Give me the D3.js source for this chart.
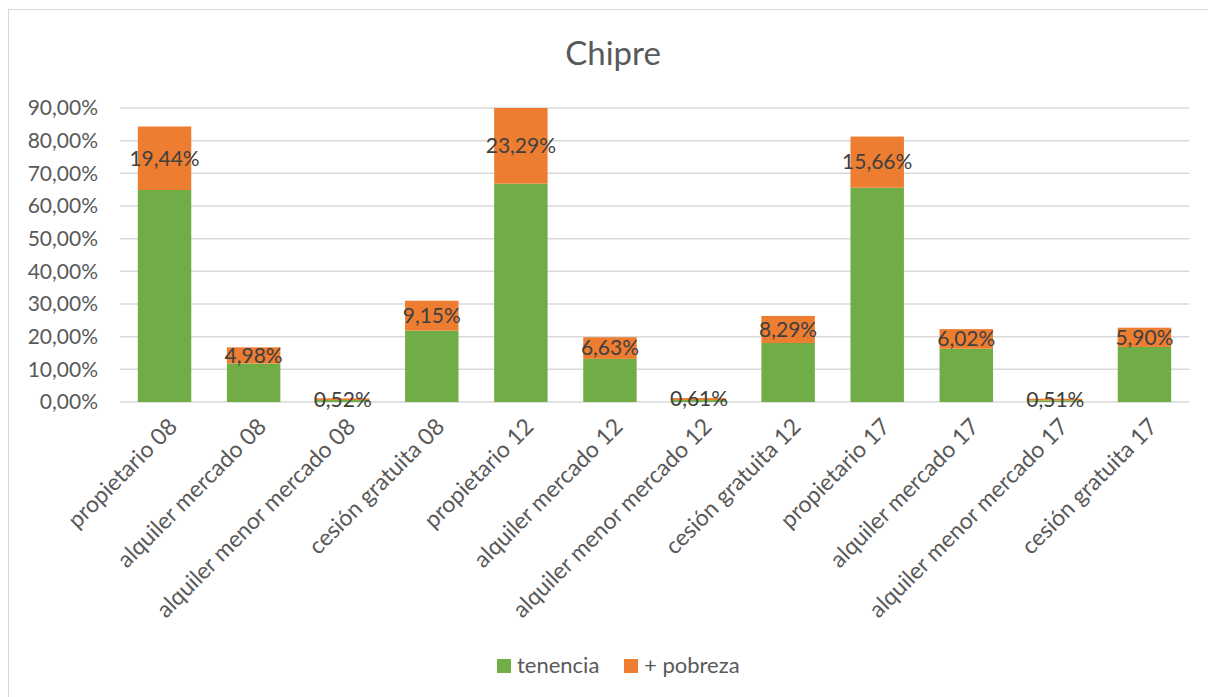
<!DOCTYPE html>
<html><head><meta charset="utf-8">
<script src="https://cdn.jsdelivr.net/npm/d3@7"></script>
<style>body{margin:0;background:#fff;} text{font-family:Lato, "Open Sans", sans-serif;}</style>
</head><body>
<svg id="c" width="1208" height="697"></svg>
<script>
const categories = ["propietario 08","alquiler mercado 08","alquiler menor mercado 08","cesión gratuita 08","propietario 12","alquiler mercado 12","alquiler menor mercado 12","cesión gratuita 12","propietario 17","alquiler mercado 17","alquiler menor mercado 17","cesión gratuita 17"];
const tenencia = [64.9, 11.76, 0.6, 21.85, 66.85, 13.2, 0.6, 18.06, 65.6, 16.3, 0.5, 16.85];
const pobreza = [19.44, 4.98, 0.52, 9.15, 23.29, 6.63, 0.61, 8.29, 15.66, 6.02, 0.51, 5.90];
const yTicks = [0,10,20,30,40,50,60,70,80,90];
const seriesNames = ["tenencia","+ pobreza"];
const colors = ["#70AD47","#ED7D31"];

const svg = d3.select("#c");
const W = 1208, H = 697;
const pLeft = 120, pRight = 1189, pTop = 108, pBottom = 402;

svg.append("line").attr("x1",8.5).attr("x2",8.5).attr("y1",9).attr("y2",H).attr("stroke","#d9d9d9");
svg.append("line").attr("x1",8).attr("x2",W).attr("y1",9.5).attr("y2",9.5).attr("stroke","#d9d9d9");

const x = d3.scaleBand().domain(categories).range([pLeft,pRight]).paddingInner(0.4).paddingOuter(0.2);
const y = d3.scaleLinear().domain([0,90]).range([pBottom,pTop]).clamp(true);

const fmt = v => v.toFixed(2).replace(".", ",") + "%";

// gridlines
svg.append("g").selectAll("line").data(yTicks).join("line")
  .attr("x1",pLeft).attr("x2",pRight).attr("y1",d=>y(d)).attr("y2",d=>y(d))
  .attr("stroke","#d9d9d9").attr("stroke-width",1.5);

// y axis labels
const yAxis = d3.axisLeft(y).tickValues(yTicks).tickFormat(fmt).tickSize(0).tickPadding(0);
const gy = svg.append("g").attr("transform",`translate(${pLeft-22},0)`).call(yAxis);
gy.select(".domain").remove();
gy.selectAll("text").attr("font-size",21).attr("fill","#595959").style("font-family","Lato");

// stacked bars
const stackData = categories.map((c,i)=>({cat:c, tenencia:tenencia[i], pobreza:pobreza[i]}));
const stack = d3.stack().keys(["tenencia","pobreza"])(stackData);
stack.forEach((s,si)=>{
  svg.append("g").selectAll("rect").data(s).join("rect")
    .attr("x",d=>x(d.data.cat)).attr("width",x.bandwidth())
    .attr("y",d=>y(d[1])).attr("height",d=>y(d[0])-y(d[1]))
    .attr("fill",colors[si]);
});

// data labels on pobreza
svg.append("g").selectAll("text").data(stack[1]).join("text")
  .attr("x",d=>x(d.data.cat)+x.bandwidth()/2)
  .attr("y",d=>(y(d[0])+y(d[1]))/2)
  .attr("dy","0.35em").attr("text-anchor","middle")
  .attr("font-size",21).attr("fill","#404040")
  .text(d=>fmt(d.data.pobreza));

// x axis labels
const xAxis = d3.axisBottom(x).tickSize(0).tickPadding(0);
const gx = svg.append("g").attr("transform",`translate(0,${pBottom})`).call(xAxis);
gx.select(".domain").remove();
gx.selectAll("text").attr("font-size",23).attr("fill","#595959").style("font-family","Lato")
  .attr("text-anchor","end").attr("dy",null).attr("y",null)
  .attr("transform","translate(10,22) rotate(-45)")
  .attr("dominant-baseline","middle");

// title
svg.append("text").attr("x",613).attr("y",65).attr("text-anchor","middle")
  .attr("font-size",33).attr("fill","#595959").text("Chipre");

// legend
const lg = svg.append("g");
const legX = [497, 624];
seriesNames.forEach((n,i)=>{
  lg.append("rect").attr("x",legX[i]).attr("y",659).attr("width",14).attr("height",14).attr("fill",colors[i]);
  lg.append("text").attr("x",legX[i]+20).attr("y",673).attr("font-size",22).attr("fill","#595959").text(n);
});
</script>
</body></html>
